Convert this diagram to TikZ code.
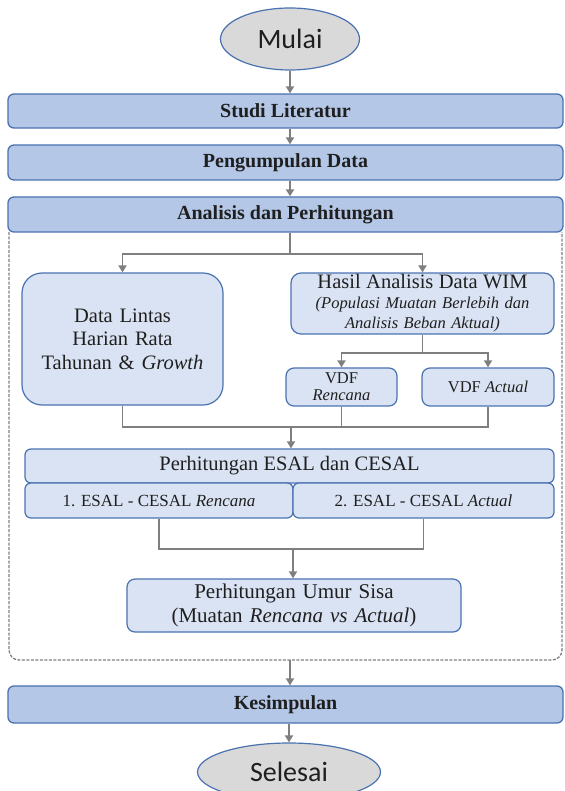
\documentclass[tikz,border=0pt]{standalone}
\usepackage{fontspec}
\setmainfont{Liberation Serif}
\newfontfamily\calibri{Carlito}
\usetikzlibrary{arrows.meta,shapes.geometric}
\definecolor{hdrfill}{HTML}{B4C7E7}
\definecolor{boxfill}{HTML}{DAE3F3}
\definecolor{edge}{HTML}{4A72B0}
\definecolor{ovalfill}{HTML}{D9D9D9}
\definecolor{arrgray}{HTML}{7F7F7F}
\definecolor{ink}{HTML}{1F1F1F}
\begin{document}
\begin{tikzpicture}[x=1pt,y=-1pt,
  hdr/.style={draw=edge,fill=hdrfill,line width=1.3pt,rounded corners=6pt,minimum width=555pt,minimum height=34pt,inner sep=0pt,font=\fontsize{20}{22}\selectfont\bfseries,text=ink},
  box/.style={draw=edge,fill=boxfill,line width=1.2pt,rounded corners=8pt,inner sep=0pt,align=center,font=\fontsize{20.5}{23.5}\selectfont,text=ink},
  term/.style={ellipse,draw=edge,fill=ovalfill,line width=1.2pt,inner sep=0pt,font=\calibri\fontsize{28}{30}\selectfont,text=ink},
  arr/.style={draw=arrgray,line width=1.8pt,-{Triangle[length=7pt,width=8pt]}},
  ln/.style={draw=arrgray,line width=1.8pt}]
\useasboundingbox (0,0) rectangle (564,791);
\draw[arrgray,line width=1.3pt,dash pattern=on 3pt off 1.5pt,rounded corners=10pt] (9,232) -- (9,660) -- (562,660) -- (562,232);
\node[term,minimum width=139pt,minimum height=62pt] (mulai) at (290,39) {Mulai};
\node[hdr] (studi) at (285.5,111) {Studi Literatur};
\node[hdr,minimum height=35pt] (data) at (285.5,162.5) {Pengumpulan Data};
\node[hdr,minimum height=35pt] (analisis) at (285.5,214.5) {Analisis dan Perhitungan};
\node[box,rounded corners=20pt,minimum width=201pt,minimum height=132pt,text width=190pt] (lhr) at (122.5,339) {Data Lintas\\Harian Rata\\Tahunan \& \textit{Growth}};
\node[box,rounded corners=10pt,minimum width=263pt,minimum height=61pt,text width=260pt,font=\fontsize{16.5}{20}\selectfont\itshape] (wim) at (422.5,303.5) {{\upshape\fontsize{20.5}{21}\selectfont Hasil Analisis Data WIM}\\(Populasi Muatan Berlebih dan\\Analisis Beban Aktual)};
\node[box,font=\fontsize{16.5}{17}\selectfont,minimum width=111pt,minimum height=38pt,text width=105pt] (vdfr) at (341.5,387) {VDF\\\textit{Rencana}};
\node[box,font=\fontsize{16.5}{17}\selectfont,minimum width=132pt,minimum height=38pt] (vdfa) at (488,387) {VDF \textit{Actual}};
\node[box,rounded corners=6pt,minimum width=529pt,minimum height=34pt] (esal) at (289.5,466) {Perhitungan ESAL dan CESAL};
\node[box,rounded corners=6pt,font=\fontsize{17}{18}\selectfont,minimum width=268pt,minimum height=35pt] (esalr) at (159,500.5) {1. ESAL - CESAL \textit{Rencana}};
\node[box,rounded corners=6pt,font=\fontsize{17}{18}\selectfont,minimum width=261pt,minimum height=35pt] (esala) at (423.5,500.5) {2. ESAL - CESAL \textit{Actual}};
\node[box,font=\fontsize{21}{24}\selectfont,minimum width=334pt,minimum height=53pt,text width=320pt] (umur) at (294,605.5) {Perhitungan Umur Sisa\\(Muatan \textit{Rencana vs Actual})};
\node[hdr,minimum height=37pt] (simpul) at (285.5,704.5) {Kesimpulan};
\node[term,minimum width=183pt,minimum height=58pt] (selesai) at (289,772) {Selesai};
\coordinate (s1) at (290,254);
\coordinate (s2) at (422.5,353);
\coordinate (m1) at (291,427);
\coordinate (m2) at (293,549);
\coordinate (c1) at (290,660);
\draw[arr] (mulai.south) -- (mulai |- studi.north);
\draw[arr] (mulai |- studi.south) -- (mulai |- data.north);
\draw[arr] (mulai |- data.south) -- (mulai |- analisis.north);
\draw[ln] (mulai |- analisis.south) -- (s1);
\draw[arr] (s1) -| (lhr.north);
\draw[arr] (s1) -| (wim.north);
\draw[ln] (wim.south) -- (s2);
\draw[arr] (s2) -| (vdfr.north);
\draw[arr] (s2) -| (vdfa.north);
\draw[ln] (lhr.south) |- (m1) -| (vdfa.south);
\draw[ln] (vdfr.south) -- (vdfr.south |- m1);
\draw[arr] (m1) -- (m1 |- esal.north);
\draw[ln] (esalr.south) |- (m2) -| (esala.south);
\draw[arr] (m2) -- (m2 |- umur.north);
\draw[arr] (c1) -- (c1 |- simpul.north);
\draw[arr] (selesai |- simpul.south) -- (selesai.north);
\end{tikzpicture}
\end{document}
